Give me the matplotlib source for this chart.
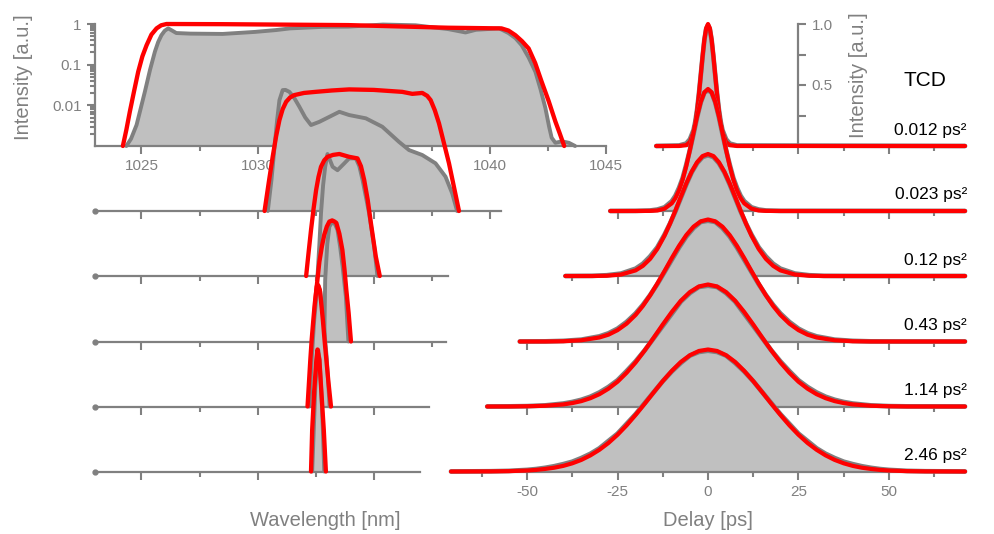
import matplotlib.pyplot as plt
from matplotlib.ticker import NullFormatter, LogLocator

plt.rcParams['font.family'] = ['Liberation Sans', 'DejaVu Sans']
plt.rcParams['axes.unicode_minus'] = False

W, H = 995, 534
GRAY = "#808080"
FILL = "#c0c0c0"
RED = "#ff0000"

# vertical stacking (pixel rows of each baseline) shared by both panels
BASE_PX = [146, 211, 276, 341.5, 406.5, 471.5]
TRACE_H = 122

# ── spectra (left panel) ───────────────────────────────────────────────────
WL_MIN, WL_MAX = 1023, 1045
WL_MAJOR = [1025, 1030, 1035, 1040, 1045]
WL_MINOR = [1027.5, 1032.5, 1037.5, 1042.5]
WL_AXIS_END = [1045, 1040.5, 1038.2, 1038.1, 1037.4, 1037.0]

s1_wl = [1024.35, 1024.55, 1024.79, 1024.97, 1025.15, 1025.37, 1025.58, 1025.72,
         1025.86, 1026.0, 1026.15, 1026.3, 1026.5, 1027.1, 1028.5, 1029.9,
         1030.8, 1031.4, 1032.8, 1033.9, 1035.4, 1036.8, 1038.2, 1038.95,
         1039.4, 1040.4, 1040.8, 1041.1, 1041.37, 1041.67, 1041.96, 1042.18,
         1042.39, 1042.55, 1042.66, 1042.82, 1043.1, 1043.4, 1043.67]
s1_int = [0.001, 0.0015, 0.0033, 0.0085, 0.022, 0.075, 0.21, 0.36,
          0.53, 0.68, 0.78, 0.7, 0.6, 0.58, 0.57, 0.64,
          0.71, 0.78, 0.85, 0.86, 0.97, 0.93, 0.75, 0.62,
          0.72, 0.78, 0.6, 0.45, 0.3, 0.15, 0.067, 0.025,
          0.0086, 0.003, 0.0016, 0.0012, 0.0013, 0.0012, 0.001]
f1_wl = [1024.2, 1024.35, 1024.5, 1024.68, 1024.86, 1025.04, 1025.22, 1025.43,
         1025.65, 1025.85, 1026.08, 1028.5, 1033.9, 1038.2, 1040.5, 1040.8,
         1041.1, 1041.38, 1041.67, 1041.95, 1042.23, 1042.53, 1042.82, 1043.0,
         1043.2]
f1_int = [0.001, 0.0025, 0.007, 0.022, 0.067, 0.16, 0.30, 0.55,
          0.78, 0.93, 1.0, 0.99, 0.94, 0.81, 0.78, 0.69,
          0.53, 0.38, 0.25, 0.11, 0.038, 0.0128, 0.004, 0.0021,
          0.001]

s2_wl = [1030.44, 1030.6, 1030.73, 1030.84, 1030.94, 1031.08, 1031.2, 1031.37,
         1031.58, 1031.8, 1032.05, 1032.3, 1032.66, 1033.09, 1033.52, 1033.94,
         1034.66, 1035.37, 1036.09, 1036.52, 1037.09, 1037.66, 1038.09, 1038.38,
         1038.59]
s2_int = [0.001, 0.006, 0.038, 0.17, 0.53, 0.94, 0.95, 0.85,
          0.6, 0.365, 0.2, 0.13, 0.156, 0.207, 0.275, 0.229,
          0.19, 0.118, 0.05, 0.0315, 0.0238, 0.0149, 0.007, 0.0027,
          0.001]
f2_wl = [1030.3, 1030.48, 1030.65, 1030.8, 1030.94, 1031.08, 1031.23, 1031.4,
         1031.58, 1032.0, 1032.52, 1033.2, 1033.94, 1035.0, 1036.23, 1036.66,
         1037.09, 1037.3, 1037.45, 1037.63, 1037.81, 1038.03, 1038.24, 1038.45,
         1038.67]
f2_int = [0.001, 0.005, 0.0216, 0.07, 0.172, 0.32, 0.485, 0.62,
          0.708, 0.8, 0.853, 0.92, 0.977, 0.95, 0.85, 0.76,
          0.8, 0.68, 0.533, 0.3, 0.143, 0.045, 0.0149, 0.004,
          0.001]

s3_wl = [1032.58, 1032.66, 1032.73, 1032.82, 1032.91, 1033.01, 1033.12, 1033.23,
         1033.44, 1033.73, 1033.94, 1034.23, 1034.38, 1034.52, 1034.66, 1034.8,
         1035.02, 1035.16]
s3_int = [0.001, 0.006, 0.035, 0.17, 0.485, 1.0, 0.7, 0.485,
          0.40, 0.587, 0.78, 0.78, 0.5, 0.229, 0.09, 0.035,
          0.0053, 0.001]
f3_wl = [1032.09, 1032.2, 1032.3, 1032.41, 1032.52, 1032.62, 1032.73, 1032.87,
         1033.01, 1033.25, 1033.52, 1033.94, 1034.3, 1034.45, 1034.59, 1034.74,
         1034.88, 1035.09, 1035.26]
f3_int = [0.001, 0.004, 0.0135, 0.045, 0.13, 0.27, 0.485, 0.7,
          0.853, 0.95, 1.0, 0.853, 0.78, 0.5, 0.229, 0.075,
          0.0197, 0.003, 0.001]

s4_wl = [1032.87, 1032.91, 1033.0, 1033.09, 1033.23, 1033.34, 1033.44, 1033.55,
         1033.66, 1033.8, 1033.91]
s4_int = [0.001, 0.033, 0.25, 0.67, 0.89, 0.75, 0.555, 0.22,
          0.07, 0.0128, 0.001]
f4_wl = [1032.38, 1032.46, 1032.53, 1032.66, 1032.77, 1032.87, 1032.98, 1033.09,
         1033.21, 1033.3, 1033.39, 1033.52, 1033.65, 1033.74, 1033.82, 1033.92,
         1034.02]
f4_int = [0.001, 0.006, 0.0186, 0.091, 0.22, 0.42, 0.67, 0.89,
          0.95, 0.9, 0.825, 0.45, 0.179, 0.06, 0.0186, 0.005,
          0.001]

s5_wl = [1032.23, 1032.33, 1032.44, 1032.55, 1032.61, 1032.7, 1032.83, 1032.98, 1033.1]
s5_int = [0.001, 0.015, 0.14, 0.65, 0.95, 0.66, 0.14, 0.015, 0.001]
f5_wl = [1032.15, 1032.27, 1032.33, 1032.4, 1032.46, 1032.52, 1032.55, 1032.58,
         1032.62, 1032.68, 1032.74, 1032.81, 1032.88, 1032.96, 1033.05, 1033.16]
f5_int = [0.001, 0.014, 0.045, 0.135, 0.33, 0.658, 0.9, 1.0,
          0.93, 0.736, 0.35, 0.135, 0.045, 0.014, 0.004, 0.001]

s6_wl = [1032.35, 1032.42, 1032.48, 1032.56, 1032.61, 1032.67, 1032.74, 1032.81, 1032.87]
s6_int = [0.001, 0.011, 0.10, 0.55, 0.98, 0.55, 0.10, 0.011, 0.001]
f6_wl = [1032.3, 1032.35, 1032.44, 1032.53, 1032.58, 1032.66, 1032.74, 1032.85, 1032.94]
f6_int = [0.001, 0.0106, 0.102, 0.555, 1.0, 0.555, 0.102, 0.0106, 0.001]

SPECTRA = [(s1_wl, s1_int, f1_wl, f1_int), (s2_wl, s2_int, f2_wl, f2_int),
           (s3_wl, s3_int, f3_wl, f3_int), (s4_wl, s4_int, f4_wl, f4_int),
           (s5_wl, s5_int, f5_wl, f5_int), (s6_wl, s6_int, f6_wl, f6_int)]

# ── autocorrelation traces (right panel) ───────────────────────────────────
T_MIN, T_MAX = -71, 71
T_MAJOR = [-50, -25, 0, 25, 50]
T_MINOR = [-62.5, -37.5, -12.5, 12.5, 37.5, 62.5]
TCD_LABELS = ["0.012 ps²", "0.023 ps²", "0.12 ps²", "0.43 ps²", "1.14 ps²", "2.46 ps²"]

t1 = [-14.3, -8, -6, -5, -4, -3.5, -3, -2.5, -2, -1.5, -1, -0.5, 0,
      0.5, 1, 1.5, 2, 2.5, 3, 3.5, 4, 5, 6, 8, 71]
a1_fit = [0, 0, 0.007, 0.033, 0.112, 0.187, 0.291, 0.425, 0.578, 0.735, 0.872, 0.966, 1,
          0.966, 0.872, 0.735, 0.578, 0.425, 0.291, 0.187, 0.112, 0.033, 0.007, 0, 0]
a1_dat = [0, 0.004, 0.02, 0.055, 0.13, 0.2, 0.3, 0.43, 0.58, 0.73, 0.87, 0.96, 0.99,
          0.96, 0.87, 0.73, 0.58, 0.43, 0.3, 0.2, 0.13, 0.055, 0.02, 0.004, 0]

t2 = [-27, -20, -16, -14, -12, -10, -9, -8, -7, -6, -5, -4, -3, -2, -1, 0,
      1, 2, 3, 4, 5, 6, 7, 8, 9, 10, 12, 14, 16, 20, 71]
a2_fit = [0, 0, 0.001, 0.004, 0.019, 0.063, 0.106, 0.170, 0.257, 0.368, 0.5, 0.642,
          0.779, 0.895, 0.973, 1,
          0.973, 0.895, 0.779, 0.642, 0.5, 0.368, 0.257, 0.170, 0.106, 0.063,
          0.019, 0.004, 0.001, 0, 0]
a2_dat = [0, 0.001, 0.004, 0.012, 0.03, 0.08, 0.125, 0.19, 0.27, 0.38, 0.5, 0.63,
          0.77, 0.89, 0.97, 0.99,
          0.97, 0.89, 0.77, 0.63, 0.5, 0.38, 0.27, 0.19, 0.125, 0.08,
          0.03, 0.012, 0.004, 0.001, 0]

t3 = [-39.4, -32, -28, -24, -20, -18, -16, -14, -12, -10.5, -9, -7.5, -6, -4.5,
      -3, -1.5, 0, 1.5, 3, 4.5, 6, 7.5, 9, 10.5, 12, 14, 16, 18, 20, 24, 28,
      32, 40, 71]
a3_fit = [0, 0, 0.002, 0.012, 0.046, 0.083, 0.140, 0.222, 0.331, 0.429, 0.537,
          0.649, 0.759, 0.856, 0.933, 0.983, 1, 0.983, 0.933, 0.856, 0.759,
          0.649, 0.537, 0.429, 0.331, 0.222, 0.140, 0.083, 0.046, 0.012, 0.002,
          0, 0, 0]
a3_dat = [0, 0.001, 0.006, 0.02, 0.06, 0.1, 0.16, 0.235, 0.34, 0.43, 0.53,
          0.64, 0.75, 0.85, 0.925, 0.975, 0.99, 0.975, 0.925, 0.85, 0.75,
          0.64, 0.53, 0.43, 0.34, 0.235, 0.16, 0.1, 0.06, 0.02, 0.006,
          0.001, 0, 0]

t4 = [-52, -45, -40, -35, -30, -27.5, -25, -22.5, -20, -18, -16, -14, -12, -10,
      -8, -6, -4, -2, 0, 2, 4, 6, 8, 10, 12, 14, 16, 18, 20, 22.5, 25, 27.5,
      30, 35, 40, 45, 55, 71]
a4_fit = [0, 0, 0.002, 0.010, 0.033, 0.056, 0.093, 0.146, 0.218, 0.291, 0.378,
          0.475, 0.578, 0.684, 0.784, 0.872, 0.941, 0.985, 1, 0.985, 0.941,
          0.872, 0.784, 0.684, 0.578, 0.475, 0.378, 0.291, 0.218, 0.146, 0.093,
          0.056, 0.033, 0.010, 0.002, 0, 0, 0]
a4_dat = [0, 0.001, 0.005, 0.015, 0.042, 0.067, 0.105, 0.16, 0.23, 0.3, 0.38,
          0.47, 0.57, 0.67, 0.77, 0.86, 0.93, 0.98, 0.99, 0.98, 0.93,
          0.86, 0.77, 0.67, 0.57, 0.47, 0.38, 0.3, 0.23, 0.16, 0.105,
          0.067, 0.042, 0.015, 0.005, 0.001, 0, 0]

t5 = [-61, -55, -50, -45, -40, -37.5, -35, -32.5, -30, -27.5, -25, -22.5, -20,
      -17.5, -15, -12.5, -10, -7.5, -5, -2.5, 0, 2.5, 5, 7.5, 10, 12.5, 15,
      17.5, 20, 22.5, 25, 27.5, 30, 32.5, 35, 37.5, 40, 45, 50, 55, 71]
a5_fit = [0, 0, 0.002, 0.006, 0.017, 0.028, 0.044, 0.068, 0.101, 0.146, 0.203,
          0.276, 0.361, 0.459, 0.564, 0.672, 0.775, 0.867, 0.938, 0.984, 1,
          0.984, 0.938, 0.867, 0.775, 0.672, 0.564, 0.459, 0.361, 0.276, 0.203,
          0.146, 0.101, 0.068, 0.044, 0.028, 0.017, 0.006, 0.002, 0, 0]
a5_dat = [0, 0.001, 0.003, 0.009, 0.024, 0.037, 0.055, 0.08, 0.115, 0.16, 0.215,
          0.29, 0.37, 0.46, 0.56, 0.66, 0.76, 0.86, 0.93, 0.98, 0.99,
          0.98, 0.93, 0.86, 0.76, 0.66, 0.56, 0.46, 0.37, 0.29, 0.215,
          0.16, 0.115, 0.08, 0.055, 0.037, 0.024, 0.009, 0.003, 0.001, 0]

t6 = [-71, -60, -55, -50, -47.5, -45, -42.5, -40, -37.5, -35, -32.5, -30, -27.5,
      -25, -22.5, -20, -17.5, -15, -12.5, -10, -7.5, -5, -2.5, 0, 2.5, 5, 7.5,
      10, 12.5, 15, 17.5, 20, 22.5, 25, 27.5, 30, 32.5, 35, 37.5, 40, 42.5,
      45, 47.5, 50, 55, 60, 71]
a6_fit = [0, 0.001, 0.003, 0.008, 0.013, 0.021, 0.031, 0.046, 0.067, 0.095,
          0.132, 0.178, 0.234, 0.301, 0.378, 0.464, 0.555, 0.649, 0.741, 0.825,
          0.898, 0.953, 0.988, 1, 0.988, 0.953, 0.898, 0.825, 0.741, 0.649,
          0.555, 0.464, 0.378, 0.301, 0.234, 0.178, 0.132, 0.095, 0.067, 0.046,
          0.031, 0.021, 0.013, 0.008, 0.003, 0.001, 0]
a6_dat = [0, 0.002, 0.005, 0.013, 0.02, 0.03, 0.043, 0.06, 0.08, 0.11,
          0.145, 0.19, 0.25, 0.31, 0.39, 0.47, 0.56, 0.65, 0.74, 0.82,
          0.89, 0.95, 0.98, 0.99, 0.98, 0.95, 0.89, 0.82, 0.74, 0.65,
          0.56, 0.47, 0.39, 0.31, 0.25, 0.19, 0.145, 0.11, 0.08, 0.06,
          0.043, 0.03, 0.02, 0.013, 0.005, 0.002, 0]

TRACES = [(t1, a1_dat, a1_fit), (t2, a2_dat, a2_fit), (t3, a3_dat, a3_fit),
          (t4, a4_dat, a4_fit), (t5, a5_dat, a5_fit), (t6, a6_dat, a6_fit)]


def rect(x0, x1, base):
    return [x0 / W, (H - base) / H, (x1 - x0) / W, TRACE_H / H]


def style_ticks(ax):
    ax.tick_params(which="both", colors=GRAY, width=1.5, labelcolor=GRAY,
                   labelsize=11, direction="out")
    ax.tick_params(which="major", length=5.5, pad=4)
    ax.tick_params(which="minor", length=3.5)


fig = plt.figure(figsize=(W / 100, H / 100), dpi=100)

# ── left: stacked spectra on log scale ──
for k, (wl, dat, fwl, fit) in enumerate(SPECTRA):
    ax = fig.add_axes(rect(95, 606, BASE_PX[k]))
    ax.set_zorder(k + 1)
    ax.patch.set_visible(False)
    ax.set_yscale("log")
    ax.set_xlim(WL_MIN, WL_MAX)
    ax.set_ylim(1e-3, 1)
    ax.fill_between(wl, dat, 1e-3, color=FILL, lw=0, zorder=1)
    ax.plot(wl, dat, color=GRAY, lw=2.8, zorder=3, clip_on=False,
            solid_capstyle="round", solid_joinstyle="round")
    ax.plot(fwl, fit, color=RED, lw=3.1, zorder=4, clip_on=False,
            solid_capstyle="round", solid_joinstyle="round")
    for s in ("top", "right"):
        ax.spines[s].set_visible(False)
    ax.spines["bottom"].set_color(GRAY)
    ax.spines["bottom"].set_linewidth(1.6)
    ax.spines["bottom"].set_bounds(WL_MIN, WL_AXIS_END[k])
    end = WL_AXIS_END[k]
    ax.set_xticks([v for v in WL_MAJOR if v <= end])
    ax.set_xticks([v for v in WL_MINOR if v <= end], minor=True)
    style_ticks(ax)
    if k == 0:
        ax.spines["left"].set_color(GRAY)
        ax.spines["left"].set_linewidth(1.6)
        ax.set_yticks([0.01, 0.1, 1], labels=["0.01", "0.1", "1"])
        ax.yaxis.set_minor_locator(LogLocator(base=10, subs=range(2, 10)))
        ax.yaxis.set_minor_formatter(NullFormatter())
        ax.set_xticklabels([str(v) for v in WL_MAJOR])
        ax.set_ylabel("Intensity [a.u.]", color=GRAY, fontsize=14.5)
        ax.yaxis.set_label_coords(-0.121, 0.56)
    else:
        ax.spines["left"].set_visible(False)
        ax.set_yticks([])
        ax.yaxis.set_minor_locator(plt.NullLocator())
        ax.set_xticklabels([])
        ax.plot(0, 0, "o", ms=3.5, color=GRAY, transform=ax.transAxes,
                clip_on=False, zorder=5)
    if k == len(SPECTRA) - 1:
        ax.set_xlabel("Wavelength [nm]", color=GRAY, fontsize=14.5)
        ax.xaxis.set_label_coords((325 - 95) / 511, -0.32)

# ── right: stacked autocorrelation traces ──
for k, (t, dat, fit) in enumerate(TRACES):
    ax = fig.add_axes(rect(451, 965, BASE_PX[k]))
    ax.set_zorder(k + 10)
    ax.patch.set_visible(False)
    ax.set_xlim(T_MIN, T_MAX)
    ax.set_ylim(0, 1)
    ax.fill_between(t, dat, 0, color=FILL, lw=0, zorder=1)
    ax.plot(t, dat, color=GRAY, lw=3.4, zorder=3, clip_on=False,
            solid_capstyle="round", solid_joinstyle="round")
    ax.plot(t, fit, color=RED, lw=3.0, zorder=4, clip_on=False,
            solid_capstyle="round", solid_joinstyle="round")
    for s in ("top", "left"):
        ax.spines[s].set_visible(False)
    ax.spines["bottom"].set_color(GRAY)
    ax.spines["bottom"].set_linewidth(1.6)
    ax.spines["bottom"].set_bounds(t[0], t[-1])
    ax.set_xticks([v for v in T_MAJOR if v >= t[0]])
    ax.set_xticks([v for v in T_MINOR if v >= t[0]], minor=True)
    style_ticks(ax)
    if k == 0:
        sp = ax.spines["right"]
        sp.set_position(("data", 25))
        sp.set_bounds(0, 1)
        sp.set_color(GRAY)
        sp.set_linewidth(1.6)
        ax.yaxis.tick_right()
        ax.set_yticks([0.5, 1.0], labels=["0.5", "1.0"])
        ax.set_yticks([0.25, 0.75], minor=True)
        ax.tick_params(axis="y", which="both", length=5.5)
        ax.yaxis.set_label_position("right")
        ax.set_ylabel("Intensity [a.u.]", color=GRAY, fontsize=14.5)
        ax.yaxis.set_label_coords((849 - 451) / 514, 0.58)
        ax.text((925 - 451) / 514, (146 - 80) / TRACE_H, "TCD", fontsize=15,
                ha="center", va="center", transform=ax.transAxes)
    else:
        ax.spines["right"].set_visible(False)
        ax.set_yticks([])
    ax.text((967 - 451) / 514, 16 / TRACE_H, TCD_LABELS[k], fontsize=12.5,
            ha="right", va="center", transform=ax.transAxes)
    if k == len(TRACES) - 1:
        ax.set_xticklabels([str(v) for v in T_MAJOR])
        ax.set_xlabel("Delay [ps]", color=GRAY, fontsize=14.5)
        ax.xaxis.set_label_coords(0.5, -0.32)
    else:
        ax.set_xticklabels([])

fig.savefig("out.png", dpi=100)
